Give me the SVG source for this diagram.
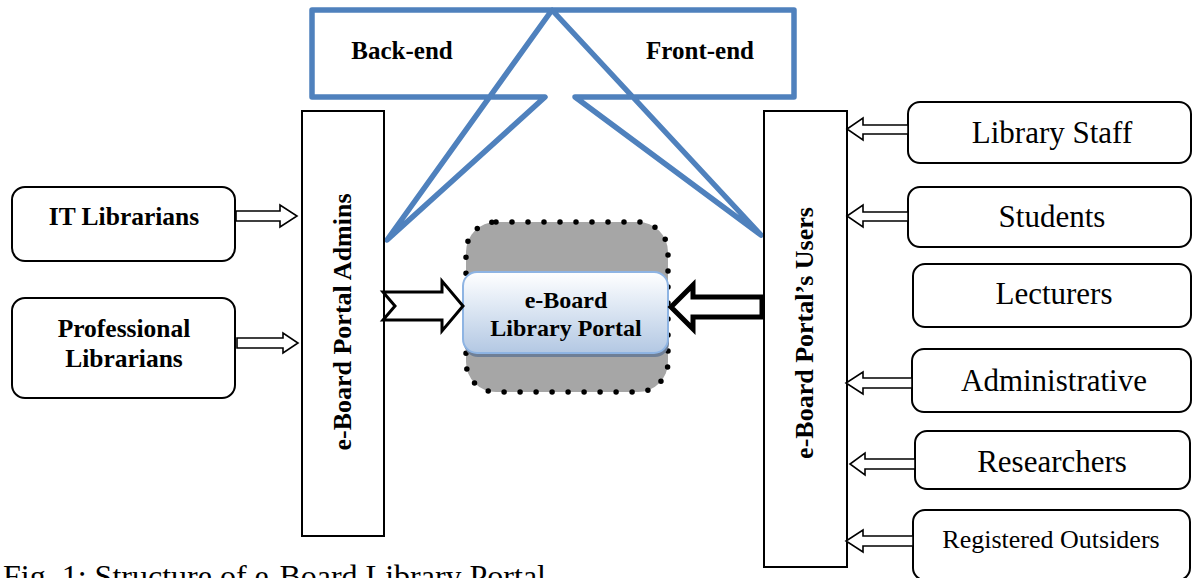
<svg xmlns="http://www.w3.org/2000/svg" width="1192" height="578" viewBox="0 0 1192 578">
<defs>
<linearGradient id="portalGrad" x1="0" y1="0" x2="0" y2="1">
<stop offset="0" stop-color="#FFFFFF"/>
<stop offset="0.35" stop-color="#E4ECF6"/>
<stop offset="1" stop-color="#B3C8E3"/>
</linearGradient>
</defs>
<style>
.box{fill:#fff;stroke:#000;stroke-width:2}
.bold{font-family:"Liberation Serif","Times New Roman",serif;font-weight:bold;fill:#000}
.reg{font-family:"Liberation Serif","Times New Roman",serif;fill:#000}
.harrow{fill:#fff;stroke:#000;stroke-width:1.6;stroke-linejoin:miter}
</style>
<rect width="1192" height="578" fill="#fff"/>

<g id="backfront">
<path d="M312,10 L794,10 L794,97 L575,97 L761,235 L552,10 L387,240 L545,97 L312,97 Z" fill="none" stroke="#4F81BD" stroke-width="5.5" stroke-linejoin="round" stroke-linecap="round"/>
<text class="bold" x="402" y="59" font-size="25" text-anchor="middle">Back-end</text>
<text class="bold" x="700" y="59" font-size="25" text-anchor="middle">Front-end</text>
</g>

<g id="admins">
<rect class="box" x="302" y="111" width="82" height="425"/>
<text class="bold" font-size="26" text-anchor="middle" transform="translate(351,322) rotate(-90)">e-Board Portal Admins</text>
</g>

<g id="users">
<rect class="box" x="764" y="111" width="83" height="456"/>
<text class="bold" font-size="26" text-anchor="middle" transform="translate(813,333) rotate(-90)">e-Board Portal’s Users</text>
</g>

<g id="it-librarians">
<rect class="box" x="12" y="187" width="223" height="74" rx="13"/>
<text class="bold" x="124" y="225" font-size="25.5" text-anchor="middle">IT Librarians</text>
</g>

<g id="professional-librarians">
<rect class="box" x="12" y="298" width="223" height="100" rx="13"/>
<text class="bold" x="124" y="337" font-size="25.5" text-anchor="middle">Professional</text>
<text class="bold" x="124" y="367" font-size="25.5" text-anchor="middle">Librarians</text>
</g>

<g id="library-staff">
<rect class="box" x="908" y="102" width="283" height="61" rx="12"/>
<text class="reg" x="1052" y="143" font-size="31" text-anchor="middle">Library Staff</text>
</g>
<g id="students">
<rect class="box" x="908" y="187" width="283" height="60" rx="12"/>
<text class="reg" x="1052" y="227" font-size="31" text-anchor="middle">Students</text>
</g>
<g id="lecturers">
<rect class="box" x="913" y="264" width="278" height="63" rx="12"/>
<text class="reg" x="1054" y="304" font-size="31" text-anchor="middle">Lecturers</text>
</g>
<g id="administrative">
<rect class="box" x="912" y="349" width="279" height="63" rx="12"/>
<text class="reg" x="1054" y="391" font-size="31" text-anchor="middle">Administrative</text>
</g>
<g id="researchers">
<rect class="box" x="915" y="431" width="275" height="58" rx="12"/>
<text class="reg" x="1052" y="472" font-size="31" text-anchor="middle">Researchers</text>
</g>
<g id="registered-outsiders">
<rect class="box" x="913" y="510" width="277" height="70" rx="12"/>
<text class="reg" x="1051" y="548" font-size="26" text-anchor="middle">Registered Outsiders</text>
</g>

<g id="portal">
<rect x="466" y="222" width="202" height="170" rx="30" fill="#A6A6A6" stroke="#000" stroke-width="5.5" stroke-dasharray="0 16" stroke-linecap="round"/>
<rect x="464" y="275" width="205" height="82" rx="14" fill="#6F7F96"/>
<rect x="463" y="272" width="205" height="81" rx="14" fill="url(#portalGrad)" stroke="#8EB4E3" stroke-width="2"/>
<text class="bold" x="566" y="308" font-size="24" text-anchor="middle">e-Board</text>
<text class="bold" x="566" y="336" font-size="24" text-anchor="middle">Library Portal</text>
</g>

<g id="connectors">
<polygon class="harrow" points="236,211 280,211 280,205 297,216 280,227 280,221 236,221"/>
<polygon class="harrow" points="237,338 283,338 283,333 298,343 283,353 283,348 237,348"/>
<polygon class="harrow" points="908,125 863,125 863,118 847,129 863,140 863,134 908,134"/>
<polygon class="harrow" points="908,212 863,212 863,205 847,216 863,227 863,221 908,221"/>
<polygon class="harrow" points="912,378 863,378 863,372 846,383 863,394 863,388 912,388"/>
<polygon class="harrow" points="915,459 865,459 865,453 850,464 865,475 865,469 915,469"/>
<polygon class="harrow" points="913,536 863,536 863,530 846,541 863,552 863,546 913,546"/>
<polygon points="383,292 442,292 442,281 463,306 442,331 442,320 383,320 395,306" fill="#fff" stroke="#000" stroke-width="3" stroke-linejoin="miter"/>
<polygon points="762,297 693,297 693,285 671,307 693,329 693,317 762,317" fill="#fff" stroke="#000" stroke-width="5" stroke-linejoin="miter"/>
</g>

<text class="reg" x="3" y="587" font-size="32">Fig. 1: Structure of e-Board Library Portal</text>
</svg>
